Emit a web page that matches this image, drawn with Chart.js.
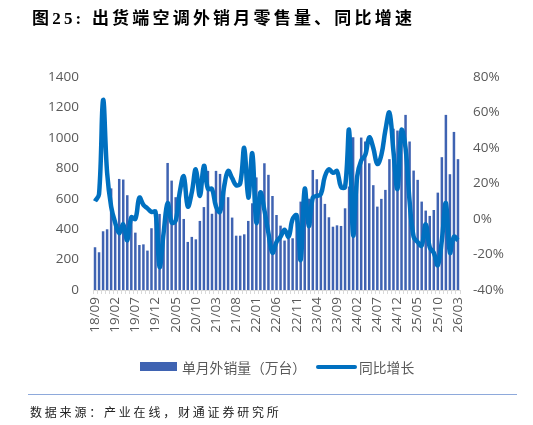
<!DOCTYPE html>
<html><head><meta charset="utf-8">
<script src="https://cdn.jsdelivr.net/npm/chart.js@4"></script>
<style>
html,body{margin:0;padding:0;background:#fff;}
body{width:533px;height:425px;position:relative;overflow:hidden;font-family:"Noto Sans CJK SC",sans-serif;}
#title{position:absolute;left:32px;top:4px;font-size:17px;font-weight:bold;letter-spacing:3.2px;color:#000;font-family:"Liberation Serif","Noto Sans CJK SC",serif;white-space:nowrap;}
#wrap{position:absolute;left:0;top:0;width:533px;height:425px;}
#legend{position:absolute;top:358px;left:0;width:533px;height:18px;font-size:13.8px;color:#595959;line-height:18px;}
#legend .sw1{position:absolute;left:140px;top:4px;width:37px;height:9px;background:#3F63B2;}
#legend .t1{position:absolute;left:182px;top:0;white-space:nowrap;}
#legend .sw2{position:absolute;left:316px;top:7px;width:41px;height:4px;background:#0070C0;border-radius:2px;}
#legend .t2{position:absolute;left:359px;top:0;white-space:nowrap;}
#rule{position:absolute;left:28px;top:394px;width:489px;height:0;border-top:1.5px solid #8EA9DB;}
#source{position:absolute;left:30px;top:403px;font-size:12px;letter-spacing:2.8px;color:#222;white-space:nowrap;}
</style>
</head><body>
<div id="wrap"><canvas id="c" width="533" height="425"></canvas></div>
<div id="title">图25: 出货端空调外销月零售量、同比增速</div>
<div id="legend"><div class="sw1"></div><div class="t1">单月外销量（万台）</div><div class="sw2"></div><div class="t2">同比增长</div></div>
<div id="rule"></div>
<div id="source">数据来源：产业在线，财通证券研究所</div>
<script>
const months = [
"18/09","18/10","18/11","18/12",
"19/01","19/02","19/03","19/04","19/05","19/06","19/07","19/08","19/09","19/10","19/11","19/12",
"20/01","20/02","20/03","20/04","20/05","20/06","20/07","20/08","20/09","20/10","20/11","20/12",
"21/01","21/02","21/03","21/04","21/05","21/06","21/07","21/08","21/09","21/10","21/11","21/12",
"22/01","22/02","22/03","22/04","22/05","22/06","22/07","22/08","22/09","22/10","22/11","22/12",
"23/01","23/02","23/03","23/04","23/05","23/06","23/07","23/08","23/09","23/10","23/11","23/12",
"24/01","24/02","24/03","24/04","24/05","24/06","24/07","24/08","24/09","24/10","24/11","24/12",
"25/01","25/02","25/03","25/04","25/05","25/06","25/07","25/08","25/09","25/10","25/11","25/12",
"26/01","26/02","26/03"];

const exportVolume = [
281,248,386,399,668,440,730,726,623,482,
377,296,300,259,406,500,500,400,835,719,
610,620,467,316,349,333,454,545,783,501,
783,763,700,610,476,357,357,366,454,570,
740,620,833,757,618,493,423,325,340,340,
487,581,590,600,789,728,658,566,478,416,
425,421,537,680,1004,760,1002,976,833,689,
548,599,658,860,1060,1048,1050,1151,976,785,
724,581,522,487,526,640,873,1151,761,1039,
860];

const yoyGrowth = [
10,14,67,26,7,-2,-8,-3,-12,1,
0,12,8,6,4,4,-27,-8,9,-2,
-1,15,24,7,15,28,13,30,17,17,
7,4,18,27,23,19,20,40,12,37,
-2,15,5,-8,-19,-13,-10,-6,-10,0,
2,-23,17,-4,12,13,14,24,28,26,
27,18,18,50,-9,24,33,36,46,40,
31,36,50,60,38,17,50,40,10,-10,
-13,-15,-3,-16,-19,-26,-12,9,-19,-10,
-12];

const leftTicks = [0,200,400,600,800,1000,1200,1400];
const rightTicks = [-40,-20,0,20,40,60,80];
const labelEvery = 5;

const tickFont = {family:"'Open Sans', sans-serif", size:13.5};
const tickColor = '#595959';

new Chart(document.getElementById('c'), {
  data: {
    labels: months,
    datasets: [
      {type:'line', label:'同比增长', data:yoyGrowth, yAxisID:'y1', order:0,
       borderColor:'#0070C0', borderWidth:4.5, pointRadius:0, tension:0.4, fill:false},
      {type:'bar', label:'单月外销量（万台）', data:exportVolume, yAxisID:'y', order:1,
       backgroundColor:'#3F63B2', categoryPercentage:1.0, barPercentage:0.62}
    ]
  },
  options: {
    responsive:false, animation:false,
    layout:{padding:{top:77,left:0,right:0,bottom:0}},
    plugins:{legend:{display:false}, tooltip:{enabled:false}},
    scales:{
      x:{
        offset:true,
        grid:{display:true, drawOnChartArea:false, drawTicks:true, tickLength:4, color:'#D9D9D9', offset:true},
        border:{display:true, color:'#D9D9D9'},
        ticks:{autoSkip:false, maxRotation:90, minRotation:90, padding:3, color:tickColor, font:tickFont,
          callback:function(v,i){ return i % labelEvery === 0 ? months[i] : ''; }},
        afterFit:function(s){ s.height = 135; }
      },
      y:{
        position:'left', min:0, max:1400,
        grid:{display:false, drawTicks:false}, border:{display:false},
        afterBuildTicks:function(s){ s.ticks = leftTicks.map(v=>({value:v})); },
        ticks:{padding:14, color:tickColor, font:tickFont, callback:v=>String(v)},
        afterFit:function(s){ s.width = 93; }
      },
      y1:{
        position:'right', min:-40, max:80,
        grid:{display:false, drawTicks:false}, border:{display:false},
        afterBuildTicks:function(s){ s.ticks = rightTicks.map(v=>({value:v})); },
        ticks:{padding:13, color:tickColor, font:tickFont, callback:v=>v+'%'},
        afterFit:function(s){ s.width = 73; }
      }
    }
  }
});
</script>
</body></html>
